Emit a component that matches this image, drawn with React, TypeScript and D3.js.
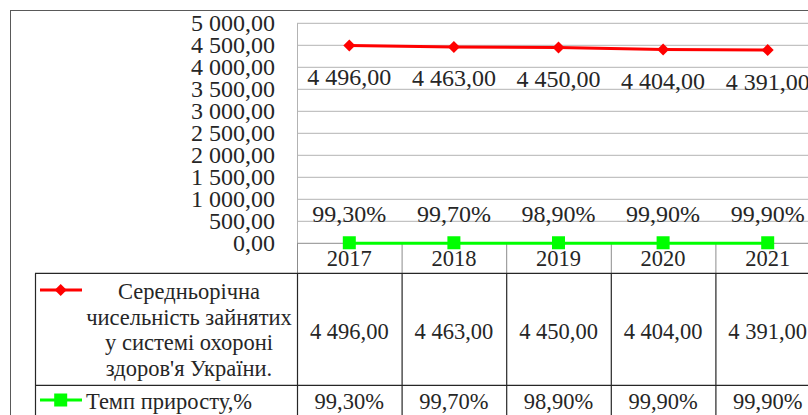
import React from "react";
import * as d3 from "d3";

const years = ["2017", "2018", "2019", "2020", "2021"];
const employed = [4496, 4463, 4450, 4404, 4391];
const growth = [0.993, 0.997, 0.989, 0.999, 0.999];
const employedLabels = ["4 496,00", "4 463,00", "4 450,00", "4 404,00", "4 391,00"];
const growthLabels = ["99,30%", "99,70%", "98,90%", "99,90%", "99,90%"];
const yTicks = [0, 500, 1000, 1500, 2000, 2500, 3000, 3500, 4000, 4500, 5000];
const legendLines1 = ["Середньорічна", "чисельність зайнятих", "у системі охороні", "здоров'я України."];
const legendLabel2 = "Темп приросту,%";

const W = 808, H = 415;
const FONT = '"Liberation Serif", "Times New Roman", Tinos, monospace';
const TXT = "#262626";

export default function App() {
  const plotL = 297, plotR = 820, plotT = 23.3, plotB = 243.3;
  const x = d3.scaleBand<string>().domain(years).range([plotL, plotR]);
  const y = d3.scaleLinear().domain([0, 5000]).range([plotB, plotT]);
  const cx = (d: string) => (x(d) as number) + x.bandwidth() / 2;
  const fmt = (v: number) => {
    const s = d3.format(",.2f")(v);
    return s.replace(/,/g, " ").replace(".", ",");
  };
  const line = d3.line<number>().x((_, i) => cx(years[i])).y((v) => y(v));
  const axisRowB = 273.3, row1B = 385.3;
  const tableL = 35;
  const bounds = years.map((d) => x(d) as number).concat([plotR]);
  const diamond = (px: number, py: number, r: number) =>
    `M${px},${py - r}L${px + r},${py}L${px},${py + r}L${px - r},${py}Z`;
  const ts = { fontFamily: FONT } as React.CSSProperties;

  return (
    <svg width={W} height={H} style={{ position: "absolute", left: 0, top: 0, background: "#fff" }}>
      {/* outer frame */}
      <line x1={10} x2={W} y1={10.5} y2={10.5} stroke="#595959" strokeWidth={1} />
      <line x1={10.5} x2={10.5} y1={10} y2={H} stroke="#595959" strokeWidth={1} />

      {/* gridlines */}
      {yTicks.slice(1).map((t) => (
        <line key={t} x1={plotL} x2={plotR} y1={y(t)} y2={y(t)} stroke="#b3b3b3" strokeWidth={1} />
      ))}
      <line x1={plotL + 0.5} x2={plotL + 0.5} y1={plotT} y2={plotB} stroke="#b3b3b3" strokeWidth={1} />

      {/* y tick labels */}
      {yTicks.map((t) => (
        <text key={t} x={275} y={y(t) + 8} textAnchor="end" fontSize={24} fill={TXT} style={ts}>
          {fmt(t)}
        </text>
      ))}

      {/* axis row */}
      <line x1={plotL} x2={plotR} y1={plotB} y2={plotB} stroke="#8c8c8c" strokeWidth={1} />
      {bounds.map((b, i) => (
        <line key={i} x1={b + 0.5} x2={b + 0.5} y1={plotB} y2={axisRowB} stroke="#8c8c8c" strokeWidth={1} />
      ))}
      {years.map((d) => (
        <text key={d} x={cx(d)} y={266} textAnchor="middle" fontSize={22.5} fill={TXT} style={ts}>
          {d}
        </text>
      ))}

      {/* table */}
      <line x1={tableL} x2={plotR} y1={axisRowB} y2={axisRowB} stroke="#262626" strokeWidth={1.2} />
      <line x1={tableL} x2={plotR} y1={row1B} y2={row1B} stroke="#262626" strokeWidth={1.2} />
      <line x1={tableL + 0.5} x2={tableL + 0.5} y1={axisRowB} y2={H} stroke="#262626" strokeWidth={1.2} />
      {bounds.map((b, i) => (
        <line key={i} x1={b + 0.5} x2={b + 0.5} y1={axisRowB} y2={H} stroke="#262626" strokeWidth={1.2} />
      ))}
      {years.map((d, i) => (
        <text key={d} x={cx(d)} y={338.5} textAnchor="middle" fontSize={22.5} fill={TXT} style={ts}>
          {employedLabels[i]}
        </text>
      ))}
      {years.map((d, i) => (
        <text key={d} x={cx(d)} y={409} textAnchor="middle" fontSize={22.5} fill={TXT} style={ts}>
          {growthLabels[i]}
        </text>
      ))}

      {/* legend keys */}
      <line x1={40} x2={82} y1={290} y2={290} stroke="#ff0000" strokeWidth={3} />
      <path d={diamond(60.7, 290, 6)} fill="#ff0000" />
      <line x1={40} x2={82} y1={400} y2={400} stroke="#00ff00" strokeWidth={3} />
      <rect x={60.7 - 6.5} y={400 - 6.5} width={13} height={13} fill="#00ff00" />
      {legendLines1.map((s, i) => (
        <text key={i} x={189} y={299 + i * 25.5} textAnchor="middle" fontSize={22.5} fill={TXT} style={ts}>
          {s}
        </text>
      ))}
      <text x={86} y={409} textAnchor="start" fontSize={22.5} fill={TXT} style={ts}>
        {legendLabel2}
      </text>

      {/* series lines */}
      <path d={line(growth) || ""} fill="none" stroke="#00ff00" strokeWidth={3} />
      <path d={line(employed) || ""} fill="none" stroke="#ff0000" strokeWidth={3} />
      {years.map((d, i) => (
        <rect key={d} x={cx(d) - 6.5} y={y(growth[i]) - 7} width={13} height={13} fill="#00ff00" />
      ))}
      {years.map((d, i) => (
        <path key={d} d={diamond(cx(d), y(employed[i]), 6)} fill="#ff0000" />
      ))}

      {/* data labels */}
      {years.map((d, i) => (
        <text key={d} x={cx(d)} y={y(employed[i]) + 39.5} textAnchor="middle" fontSize={24} fill={TXT} style={ts}>
          {employedLabels[i]}
        </text>
      ))}
      {years.map((d, i) => (
        <text key={d} x={cx(d)} y={y(growth[i]) - 21.5} textAnchor="middle" fontSize={24} fill={TXT} style={ts}>
          {growthLabels[i]}
        </text>
      ))}
    </svg>
  );
}
